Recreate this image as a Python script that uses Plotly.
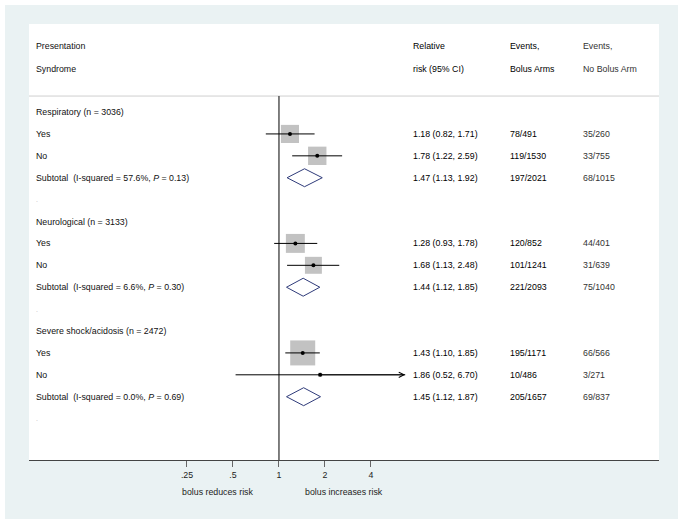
import math
import plotly.graph_objects as go

# ---------------- data ----------------
groups = ["Respiratory", "Neurological", "Severe shock/acidosis"]
group_n = [3036, 3133, 2472]
i_squared = [57.6, 6.6, 0.0]
p_het = [0.13, 0.30, 0.69]

yes_rr = [1.18, 1.28, 1.43]
yes_lo = [0.82, 0.93, 1.10]
yes_hi = [1.71, 1.78, 1.85]
yes_weight = [32, 35, 61]

no_rr = [1.78, 1.68, 1.86]
no_lo = [1.22, 1.13, 0.52]
no_hi = [2.59, 2.48, 6.70]
no_weight = [33, 28, 1.6]

sub_rr = [1.47, 1.44, 1.45]
sub_lo = [1.13, 1.12, 1.12]
sub_hi = [1.92, 1.85, 1.87]

yes_events_bolus = ["78/491", "120/852", "195/1171"]
yes_events_nobolus = ["35/260", "44/401", "66/566"]
no_events_bolus = ["119/1530", "101/1241", "10/486"]
no_events_nobolus = ["33/755", "31/639", "3/271"]
sub_events_bolus = ["197/2021", "221/2093", "205/1657"]
sub_events_nobolus = ["68/1015", "75/1040", "69/837"]

tick_values = [0.25, 0.5, 1, 2, 4]
tick_labels = [".25", ".5", "1", "2", "4"]

# ---------------- layout constants ----------------
W, H = 685, 527
ML, MR, MT, MB = 29, 26, 24, 67
PW = W - ML - MR
PH = H - MT - MB
FONT = "Liberation Sans, Arial, sans-serif"
FS = 8.8
BG = "rgb(234,242,243)"
BOX_COLOR = "#a8a8a8"
DIAMOND_COLOR = "#2f3b7a"
DIAMOND_HALF = 0.41
BOX_SCALE = 3.2
X_RANGE = [-1.636, 2.487]   # log10 units
Y_RANGE = [15.89, -4.02]    # row units (reversed)
SEP_ROW = -0.73


def px_to_paper(px):
    return (px - ML) / PW


def py_to_paper(py):
    return (H - MB - py) / PH


COL_LABEL = px_to_paper(34)
COL_RR = px_to_paper(411)
COL_EVB = px_to_paper(508)
COL_EVN = px_to_paper(581)

fig = go.Figure()
annotations = []


def add_text(xp, row, text, color="#111111", size=FS):
    annotations.append(dict(x=xp, xref="paper", y=row, yref="y", text=text,
                            showarrow=False, xanchor="left", yanchor="middle",
                            font=dict(family=FONT, size=size, color=color)))


# headers
add_text(COL_LABEL, -3, "Presentation")
add_text(COL_LABEL, -1.95, "Syndrome")
add_text(COL_RR, -3, "Relative", color="#000000")
add_text(COL_RR, -1.95, "risk (95% CI)", color="#000000")
add_text(COL_EVB, -3, "Events,", color="#000000")
add_text(COL_EVB, -1.95, "Bolus Arms", color="#000000")
add_text(COL_EVN, -3, "Events,", color="#333333")
add_text(COL_EVN, -1.95, "No Bolus Arm", color="#333333")

study_x_lo, study_x_hi, study_y = [], [], []
box_x, box_y, box_s = [], [], []
dia_x, dia_y = [], []


def fmt(rr, lo, hi):
    return f"{rr:.2f} ({lo:.2f}, {hi:.2f})"


for g in range(len(groups)):
    base = 5 * g
    add_text(COL_LABEL, base, f"{groups[g]} (n = {group_n[g]})")
    rows = [
        (base + 1, "Yes", yes_rr[g], yes_lo[g], yes_hi[g], yes_weight[g],
         yes_events_bolus[g], yes_events_nobolus[g]),
        (base + 2, "No", no_rr[g], no_lo[g], no_hi[g], no_weight[g],
         no_events_bolus[g], no_events_nobolus[g]),
    ]
    for r, lab, rr, lo, hi, w, eb, en in rows:
        add_text(COL_LABEL, r, lab)
        add_text(COL_RR, r, fmt(rr, lo, hi), color="#000000")
        add_text(COL_EVB, r, eb, color="#000000")
        add_text(COL_EVN, r, en, color="#333333")
        study_x_lo.append(lo); study_x_hi.append(hi); study_y.append(r)
        box_x.append(rr); box_y.append(r); box_s.append(BOX_SCALE * math.sqrt(w))
        if hi > max(tick_values):
            annotations.append(dict(x=math.log10(hi), y=r, xref="x", yref="y",
                                    ax=math.log10(rr), ay=r, axref="x", ayref="y",
                                    text="", showarrow=True, arrowhead=5,
                                    arrowsize=1.3, arrowwidth=0.8,
                                    arrowcolor="#000000"))
    rs = base + 3
    add_text(COL_LABEL, rs,
             f"Subtotal\u00a0\u00a0(I-squared = {i_squared[g]:.1f}%, <i>P</i> = {p_het[g]:.2f})")
    add_text(COL_RR, rs, fmt(sub_rr[g], sub_lo[g], sub_hi[g]), color="#000000")
    add_text(COL_EVB, rs, sub_events_bolus[g], color="#000000")
    add_text(COL_EVN, rs, sub_events_nobolus[g], color="#333333")
    dia_x += [sub_lo[g], sub_rr[g], sub_hi[g], sub_rr[g], sub_lo[g], None]
    dia_y += [rs, rs - DIAMOND_HALF, rs, rs + DIAMOND_HALF, rs, None]
    add_text(COL_LABEL, base + 4, ".", color="#bbbbbb", size=7)

# boxes
fig.add_trace(go.Scatter(x=box_x, y=box_y, mode="markers",
                         marker=dict(symbol="square", size=box_s, color=BOX_COLOR,
                                     line=dict(width=0)),
                         hoverinfo="skip", showlegend=False))
# CI lines
lx, ly = [], []
for lo, hi, r in zip(study_x_lo, study_x_hi, study_y):
    lx += [lo, hi, None]
    ly += [r, r, None]
fig.add_trace(go.Scatter(x=lx, y=ly, mode="lines",
                         line=dict(color="#000000", width=1),
                         hoverinfo="skip", showlegend=False))
# point estimates
fig.add_trace(go.Scatter(x=box_x, y=box_y, mode="markers",
                         marker=dict(symbol="circle", size=4, color="#000000"),
                         hoverinfo="skip", showlegend=False))
# diamonds
fig.add_trace(go.Scatter(x=dia_x, y=dia_y, mode="lines", fill="toself",
                         fillcolor="white",
                         line=dict(color=DIAMOND_COLOR, width=1),
                         hoverinfo="skip", showlegend=False))

# direction labels below the axis
for cx, txt in [(217, "bolus reduces risk"), (344, "bolus increases risk")]:
    annotations.append(dict(x=px_to_paper(cx), y=py_to_paper(492), xref="paper",
                            yref="paper", text=txt, showarrow=False,
                            xanchor="center", yanchor="middle",
                            font=dict(family=FONT, size=FS, color="#222222")))

shapes = [
    # outer grey region
    dict(type="rect", xref="paper", yref="paper", layer="below",
         x0=px_to_paper(5), x1=px_to_paper(678),
         y0=py_to_paper(519), y1=py_to_paper(5),
         fillcolor=BG, line=dict(width=0)),
    # inner white panel
    dict(type="rect", xref="paper", yref="paper", layer="below",
         x0=0, x1=1, y0=0, y1=1, fillcolor="white", line=dict(width=0)),
    # header separator
    dict(type="line", xref="paper", yref="y", x0=0, x1=1, y0=SEP_ROW, y1=SEP_ROW,
         line=dict(color="#cfcfcf", width=1)),
    # null line
    dict(type="line", xref="x", yref="y", x0=1, x1=1, y0=SEP_ROW, y1=Y_RANGE[0],
         line=dict(color="#000000", width=1)),
]

fig.update_layout(
    width=W, height=H,
    margin=dict(l=ML, r=MR, t=MT, b=MB, pad=0),
    paper_bgcolor="white", plot_bgcolor="white",
    showlegend=False,
    annotations=annotations, shapes=shapes,
    font=dict(family=FONT, size=FS, color="#222222"),
    xaxis=dict(type="log", range=X_RANGE, tickvals=tick_values, ticktext=tick_labels,
               showgrid=False, zeroline=False, showline=True, linecolor="#444444",
               linewidth=1.2, ticks="outside", ticklen=6, tickcolor="#666666",
               tickwidth=1, tickfont=dict(family=FONT, size=FS, color="#222222"),
               fixedrange=True),
    yaxis=dict(range=Y_RANGE, visible=False, fixedrange=True),
)

fig.write_html("out.html", config={"displayModeBar": False},
               post_script="document.body.style.margin='0px';")
